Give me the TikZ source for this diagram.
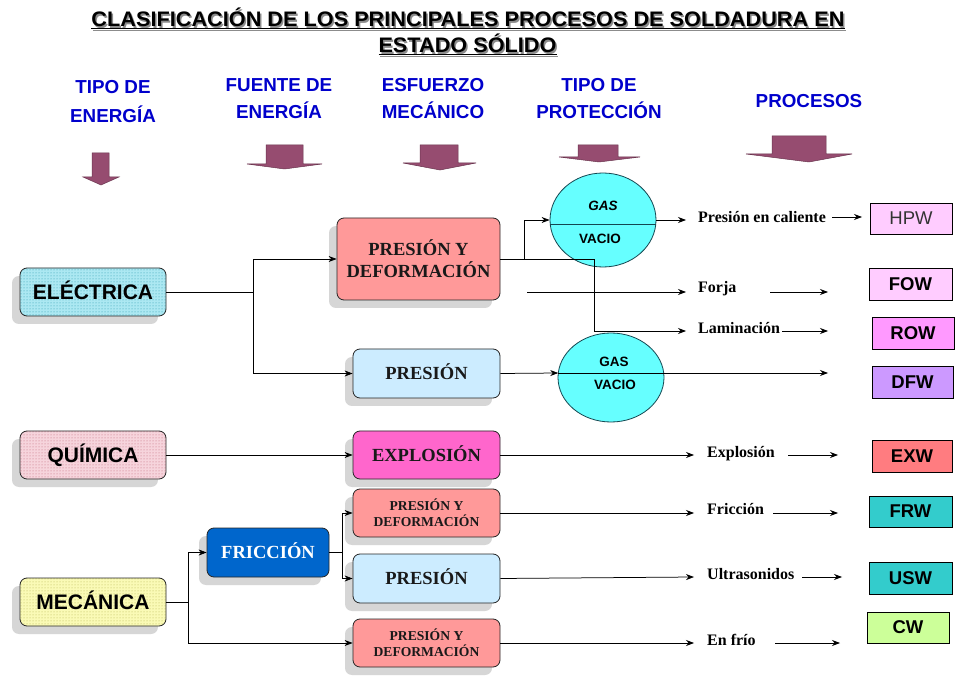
\documentclass[tikz,border=0pt]{standalone}
\usepackage{fontspec}
\usepackage{graphicx}
\setmainfont{Liberation Serif}
\setsansfont{Liberation Sans}
\usetikzlibrary{arrows.meta,shapes.geometric,shadows,patterns}
\definecolor{hblue}{RGB}{0,0,204}
\definecolor{maroonA}{RGB}{150,76,112}
\definecolor{elecB}{RGB}{172,232,242}
\definecolor{elecD}{RGB}{40,150,170}
\definecolor{quimB}{RGB}{246,212,220}
\definecolor{quimD}{RGB}{190,100,120}
\definecolor{mecB}{RGB}{250,250,182}
\definecolor{mecD}{RGB}{180,180,80}
\definecolor{salmon}{RGB}{255,153,153}
\definecolor{lblue}{RGB}{204,236,255}
\definecolor{explc}{RGB}{255,102,204}
\definecolor{fricc}{RGB}{0,102,204}
\definecolor{cyanE}{RGB}{102,255,255}
\definecolor{ellD}{RGB}{20,70,80}
\definecolor{hpwc}{RGB}{255,204,255}
\definecolor{rowc}{RGB}{255,153,255}
\definecolor{dfwc}{RGB}{204,153,255}
\definecolor{exwc}{RGB}{255,124,128}
\definecolor{frwc}{RGB}{51,204,204}
\definecolor{cwc}{RGB}{204,255,153}
\newcommand\myTitA{\underline{CLASIFICACIÓN DE LOS PRINCIPALES PROCESOS DE SOLDADURA EN}}
\newcommand\myTitB{\underline{ESTADO SÓLIDO}}
\tikzset{
  shad/.style={drop shadow={shadow xshift=-8pt,shadow yshift=-8pt,fill=black!16,opacity=1}},
  lbox/.style={shad,draw=black!85,line width=0.8pt,rounded corners=7pt,minimum width=146pt,minimum height=48pt,inner sep=0pt,text height=15pt,text depth=0pt,font=\sffamily\bfseries\fontsize{21}{24}\selectfont},
  mbox/.style={shad,draw=black!85,line width=0.8pt,rounded corners=7pt,minimum width=147pt,minimum height=48pt,inner sep=0pt,align=center,text=black!90,font=\rmfamily\bfseries\fontsize{18.5}{22}\selectfont},
  one/.style={text height=12.3pt,text depth=0pt},
  sbox/.style={mbox,font=\rmfamily\bfseries\fontsize{13.6}{16}\selectfont},
  pbox/.style={draw=black,line width=0.6pt,minimum width=82pt,minimum height=32pt,inner sep=0pt,font=\sffamily\bfseries\fontsize{18.5}{20}\selectfont},
  ellbox/.style={ellipse,draw=ellD,line width=0.8pt,fill=cyanE,minimum width=106pt,inner sep=0pt},
  etxt/.style={inner sep=0pt,font=\sffamily\bfseries\fontsize{13.5}{15}\selectfont},
  lab/.style={anchor=base west,inner sep=0pt,font=\rmfamily\bfseries\fontsize{16}{18}\selectfont},
  arr/.style={-{Stealth[length=8pt,width=6pt]},line width=0.75pt},
  ln/.style={line width=0.75pt},
  hdr/.style={anchor=base,inner sep=0pt,text=hblue,font=\sffamily\bfseries\fontsize{18.8}{22}\selectfont},
  darr/.style={fill=maroonA,draw=maroonA!70!black,line width=0.5pt},
  ttl/.style={anchor=base,inner sep=0pt,font=\sffamily\bfseries\fontsize{21}{24}\selectfont}
}
\begin{document}
\begin{tikzpicture}[x=1pt,y=-1pt]
\useasboundingbox (0,0) rectangle (964,684);
\fill[white] (0,0) rectangle (964,684);
% title
\node[ttl,text=black!45] (t1s) at (469.5,28.5) {\resizebox{753pt}{\height}{\myTitA}};
\node[ttl] (t1) at (468,27) {\resizebox{753pt}{\height}{\myTitA}};
\node[ttl,text=black!45] (t2s) at (469,54.5) {\resizebox{178pt}{\height}{\myTitB}};
\node[ttl] (t2) at (467.5,53) {\resizebox{178pt}{\height}{\myTitB}};
% headers
\node[hdr] (h1a) at (113,94) {TIPO DE};
\node[hdr] (h1b) at (113,123) {ENERGÍA};
\node[hdr] (h2a) at (279,92) {FUENTE DE};
\node[hdr] (h2b) at (279,119) {ENERGÍA};
\node[hdr] (h3a) at (433,92) {ESFUERZO};
\node[hdr] (h3b) at (433,119) {MECÁNICO};
\node[hdr] (h4a) at (599,92) {TIPO DE};
\node[hdr] (h4b) at (599,119) {PROTECCIÓN};
\node[hdr] (h5) at (809,108) {PROCESOS};
% block arrows
\draw[darr] (92,153) -- (109,153) -- (109,177) -- (119,177) -- (101,185) -- (83,177) -- (92,177) -- cycle;
\draw[darr] (266,145) -- (303,145) -- (303,164) -- (322,164) -- (284.5,169) -- (247,164) -- (266,164) -- cycle;
\draw[darr] (420,145) -- (458,145) -- (458,163) -- (476,163) -- (440,170) -- (403,163) -- (420,163) -- cycle;
\draw[darr] (578,145) -- (618,145) -- (618,157) -- (640,157) -- (599,162) -- (559,157) -- (578,157) -- cycle;
\draw[darr] (772,136) -- (826,136) -- (826,154) -- (852,154) -- (809,162) -- (746,154) -- (772,154) -- cycle;
% left nodes
\node[lbox,preaction={fill=elecB},pattern=dots,pattern color=elecD] (elec) at (93,292) {ELÉCTRICA};
\node[lbox,preaction={fill=quimB},pattern=dots,pattern color=quimD] (quim) at (93,455) {QUÍMICA};
\node[lbox,preaction={fill=mecB},pattern=dots,pattern color=mecD] (mec) at (93,602) {MECÁNICA};
% middle nodes
\node[mbox,fill=salmon,minimum width=163pt,minimum height=82pt] (pyd0) at (418.5,259) {PRESIÓN Y\\DEFORMACIÓN};
\node[mbox,one,fill=lblue,minimum height=49pt] (pres0) at (426.5,373.5) {PRESIÓN};
\node[mbox,one,fill=explc] (expl) at (426.5,455) {EXPLOSIÓN};
\node[sbox,fill=salmon] (pyd1) at (426.5,513) {PRESIÓN Y\\DEFORMACIÓN};
\node[mbox,one,fill=lblue,minimum height=49pt] (pres1) at (426.5,578.5) {PRESIÓN};
\node[sbox,fill=salmon] (pyd2) at (426.5,643) {PRESIÓN Y\\DEFORMACIÓN};
\node[mbox,one,fill=fricc,text=white,minimum width=122pt,minimum height=49pt,font=\rmfamily\bfseries\fontsize{18.5}{20}\selectfont] (fric) at (268,552.5) {FRICCIÓN};
% ellipses
\node[ellbox,minimum height=94pt] (ell1) at (603,220) {};
\coordinate (e1l) at (550.3,224);
\coordinate (e1r) at (655.7,224);
\draw[ln,ellD] (e1l) -- (e1r);
\node[etxt,font=\sffamily\bfseries\itshape\fontsize{13.5}{15}\selectfont] (gas1) at (603,206) {GAS};
\node[etxt] (vac1) at (600,238.5) {VACIO};
\node[ellbox,minimum height=89pt] (ell2) at (611,377.5) {};
\coordinate (e2l) at (558.2,373);
\coordinate (e2r) at (663.8,373);
\draw[ln] (e2l) -- (e2r);
\node[etxt] (gas2) at (614,362) {GAS};
\node[etxt] (vac2) at (615,385) {VACIO};
% process boxes
\node[pbox,fill=hpwc,minimum height=31pt,text=black!80,font=\sffamily\fontsize{18.5}{20}\selectfont] (hpw) at (911,218.5) {HPW};
\node[pbox,fill=hpwc,minimum width=83pt] (fow) at (910.5,284) {FOW};
\node[pbox,fill=rowc] (row) at (913,333) {ROW};
\node[pbox,fill=dfwc,minimum width=81pt] (dfw) at (912.5,382) {DFW};
\node[pbox,fill=exwc,minimum width=80pt] (exw) at (912,456) {EXW};
\node[pbox,fill=frwc,minimum width=83pt,minimum height=31pt] (frw) at (910.5,511.5) {FRW};
\node[pbox,fill=frwc,minimum width=83pt] (usw) at (910.5,578) {USW};
\node[pbox,fill=cwc,minimum height=31pt] (cw) at (908,627.5) {CW};
% labels
\node[lab] (lhpw) at (698,222.7) {Presión en caliente};
\node[lab] (lfor) at (698,293) {Forja};
\node[lab] (llam) at (698,334) {Laminación};
\node[lab] (lexp) at (707,457) {Explosión};
\node[lab] (lfri) at (707,514) {Fricción};
\node[lab] (lult) at (707,579) {Ultrasonidos};
\node[lab] (lfrio) at (707,645) {En frío};
% coordinates
\coordinate (j1) at (253,292);
\coordinate (ja) at (524,259);
\coordinate (jb) at (594,331);
\coordinate (cfs) at (527,292);
\coordinate (chpw) at (686,220);
\coordinate (cfor) at (686,292);
\coordinate (clam) at (686,331);
\coordinate (cexp) at (694,455);
\coordinate (cfri) at (694,513);
\coordinate (cult) at (694,577);
\coordinate (cfrio) at (694,643);
\coordinate (j2) at (188,602);
\coordinate (j3) at (342,552.5);
\coordinate (a1s) at (832,217); \coordinate (a1e) at (862,217);
\coordinate (a2s) at (770,292); \coordinate (a2e) at (828,292);
\coordinate (a3s) at (782,331); \coordinate (a3e) at (828,331);
\coordinate (a4e) at (828,373);
\coordinate (a5s) at (788,455); \coordinate (a5e) at (838,455);
\coordinate (a6s) at (773,513); \coordinate (a6e) at (838,513);
\coordinate (a7s) at (802,577); \coordinate (a7e) at (842,577);
\coordinate (a8s) at (775,643); \coordinate (a8e) at (840,643);
% connectors
\draw[ln] (elec.east) -- (j1);
\draw[arr] (j1) |- (pyd0.west);
\draw[arr] (j1) |- (pres0.west);
\draw[arr] (pyd0.east) -- (ja) |- (ell1.west);
\draw[arr] (pyd0.east) -| (jb) -- (clam);
\draw[arr] (cfs) -- (cfor);
\draw[arr] (ell1.east) -- (chpw);
\draw[arr] (pres0.east) -- (e2l);
\draw[arr] (e2r) -- (a4e);
\draw[arr] (quim.east) -- (expl.west);
\draw[arr] (expl.east) -- (cexp);
\draw[ln] (mec.east) -- (j2);
\draw[arr] (j2) |- (fric.west);
\draw[arr] (j2) |- (pyd2.west);
\draw[ln] (fric.east) -- (j3);
\draw[arr] (j3) |- (pyd1.west);
\draw[arr] (j3) |- (pres1.west);
\draw[arr] (pyd1.east) -- (cfri);
\draw[arr] (pres1.east) -- (cult);
\draw[arr] (pyd2.east) -- (cfrio);
\draw[arr] (a1s) -- (a1e);
\draw[arr] (a2s) -- (a2e);
\draw[arr] (a3s) -- (a3e);
\draw[arr] (a5s) -- (a5e);
\draw[arr] (a6s) -- (a6e);
\draw[arr] (a7s) -- (a7e);
\draw[arr] (a8s) -- (a8e);
\end{tikzpicture}
\end{document}
